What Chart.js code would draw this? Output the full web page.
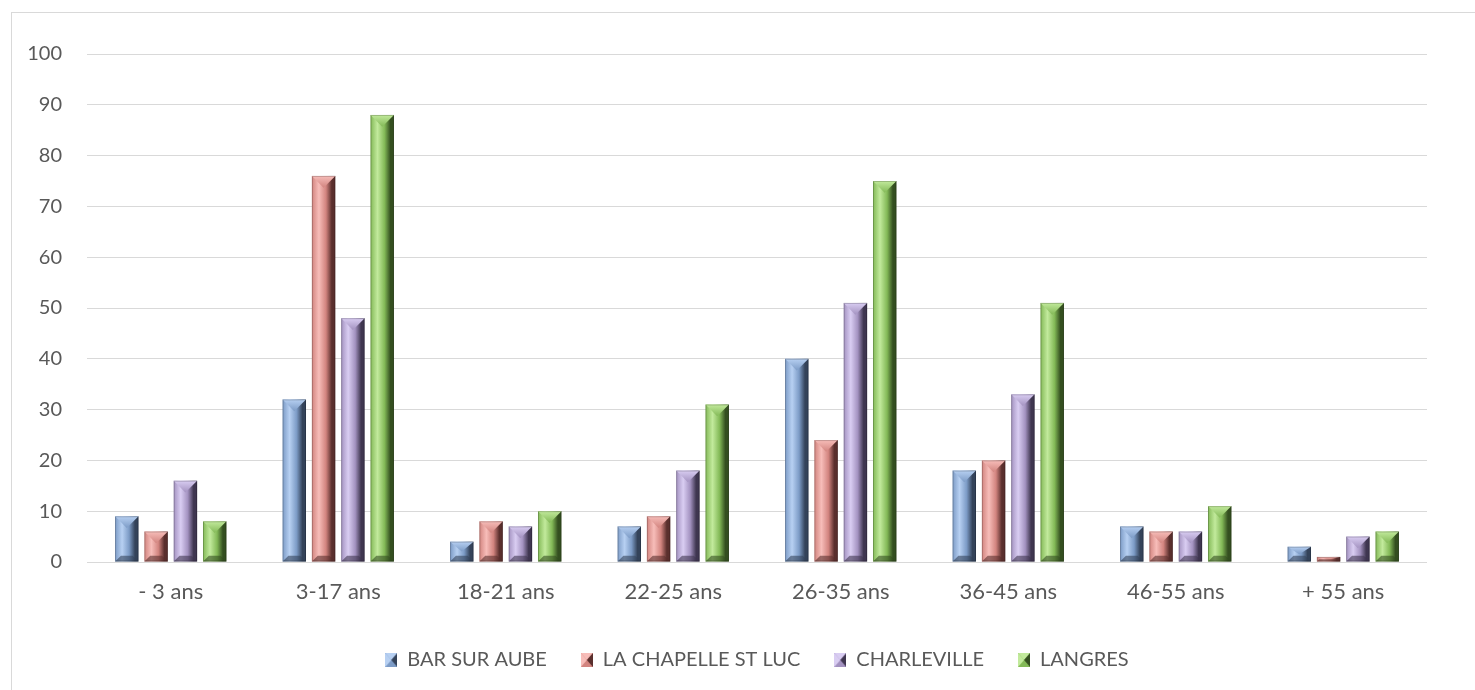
<!DOCTYPE html>
<html>
<head>
<meta charset="utf-8">
<script src="https://cdn.jsdelivr.net/npm/chart.js@4.4.1/dist/chart.umd.min.js"></script>
<style>
  html, body { margin: 0; padding: 0; background: #fff; }
  #wrap { position: relative; width: 1475px; height: 690px; }
  #frame { position: absolute; left: 11px; top: 12px; width: 1470px; height: 690px; border: 1px solid #d9d9d9; box-sizing: border-box; pointer-events: none; }
  canvas { display: block; }
</style>
</head>
<body>
<div id="wrap">
  <canvas id="chart" width="1475" height="690"></canvas>
  <div id="frame"></div>
</div>
<script>
// catégories d'âge
const categories = ['- 3 ans', '3-17 ans', '18-21 ans', '22-25 ans', '26-35 ans', '36-45 ans', '46-55 ans', '+ 55 ans'];

// valeurs par site
const barSurAube = [9, 32, 4, 7, 40, 18, 7, 3];
const laChapelle = [6, 76, 8, 9, 24, 20, 6, 1];
const charleville = [16, 48, 7, 18, 51, 33, 6, 5];
const langres = [8, 88, 10, 31, 75, 51, 11, 6];

const yTicks = [0, 10, 20, 30, 40, 50, 60, 70, 80, 90, 100];

// couleurs : base, clair, foncé
const palettes = [
  { base: '#7c9bc6', light: '#b7d0f2', dark: '#34435a' },
  { base: '#d2847f', light: '#f7bdb9', dark: '#5a2f2d' },
  { base: '#a392c0', light: '#d9cdf2', dark: '#3f3650' },
  { base: '#83b957', light: '#c2ea9c', dark: '#344f20' }
];

// dessine une barre biseautée
function drawBevel(ctx, left, right, top, bottom, pal) {
  const w = right - left;
  const h = bottom - top;
  if (h <= 0) return;
  const cx = (left + right) / 2;
  const g = ctx.createLinearGradient(left, 0, right, 0);
  g.addColorStop(0, pal.base);
  g.addColorStop(0.3, pal.light);
  g.addColorStop(0.6, pal.base);
  g.addColorStop(0.85, pal.dark);
  g.addColorStop(1, pal.dark);
  ctx.fillStyle = g;
  ctx.fillRect(left, top, w, h);

  const d = Math.min(w / 2, h / 2);
  // face du haut
  const gt = ctx.createLinearGradient(0, top, 0, top + d);
  gt.addColorStop(0, pal.light);
  gt.addColorStop(1, pal.base);
  ctx.fillStyle = gt;
  ctx.beginPath();
  ctx.moveTo(left, top);
  ctx.lineTo(right, top);
  ctx.lineTo(cx, top + d);
  ctx.closePath();
  ctx.fill();

  // face du bas
  const d2 = Math.min(w / 4, h / 2);
  ctx.fillStyle = pal.dark;
  ctx.globalAlpha = 0.6;
  ctx.beginPath();
  ctx.moveTo(left, bottom);
  ctx.lineTo(right, bottom);
  ctx.lineTo(right - d2, bottom - d2);
  ctx.lineTo(left + d2, bottom - d2);
  ctx.closePath();
  ctx.fill();
  ctx.globalAlpha = 1;

  ctx.strokeStyle = 'rgba(0,0,0,0.2)';
  ctx.lineWidth = 1;
  ctx.strokeRect(left + 0.5, top + 0.5, w - 1, h - 1);
}

// icônes de la légende
function legendIcon(pal) {
  const c = document.createElement('canvas');
  c.width = 12; c.height = 14;
  const x = c.getContext('2d');
  x.fillStyle = pal.base;
  x.fillRect(0, 0, 12, 14);
  x.fillStyle = pal.light;
  x.beginPath(); x.moveTo(0, 0); x.lineTo(12, 0); x.lineTo(6, 7); x.closePath(); x.fill();
  x.fillStyle = pal.dark;
  x.beginPath(); x.moveTo(12, 0); x.lineTo(12, 14); x.lineTo(6, 7); x.closePath(); x.fill();
  x.fillStyle = pal.light;
  x.beginPath(); x.moveTo(0, 0); x.lineTo(0, 14); x.lineTo(6, 7); x.closePath(); x.fill();
  return c;
}

const bevelPlugin = {
  id: 'bevelBars',
  afterLayout(chart) {
    // légende centrée sur la zone de tracé
    chart.legend.left = chart.chartArea.left;
    chart.legend.right = chart.chartArea.right;
  },
  afterDatasetsDraw(chart) {
    const ctx = chart.ctx;
    ctx.save();
    chart.data.datasets.forEach((ds, i) => {
      const meta = chart.getDatasetMeta(i);
      meta.data.forEach(bar => {
        const p = bar.getProps(['x', 'y', 'base', 'width'], true);
        drawBevel(ctx, p.x - p.width / 2, p.x + p.width / 2, p.y, p.base, palettes[i]);
      });
    });
    ctx.restore();
  }
};

const names = ['BAR SUR AUBE', 'LA CHAPELLE ST LUC', 'CHARLEVILLE', 'LANGRES'];
const series = [barSurAube, laChapelle, charleville, langres];

new Chart(document.getElementById('chart'), {
  type: 'bar',
  data: {
    labels: categories,
    datasets: series.map((s, i) => ({
      label: names[i],
      data: s,
      backgroundColor: 'rgba(0,0,0,0)',
      borderWidth: 0,
      pointStyle: legendIcon(palettes[i])
    }))
  },
  options: {
    responsive: false,
    animation: false,
    layout: { padding: { left: 0, right: 48, top: 54, bottom: 14 } },
    datasets: { bar: { categoryPercentage: 0.7, barPercentage: 0.8 } },
    scales: {
      x: {
        grid: { display: false },
        border: { display: false },
        ticks: { color: '#595959', font: { family: 'Lato', size: 22 }, padding: 9 },
        afterFit(scale) { scale.height = 54; }
      },
      y: {
        min: 0, max: 100,
        afterBuildTicks(scale) { scale.ticks = yTicks.map(v => ({ value: v })); },
        grid: { color: '#d9d9d9', lineWidth: 1, drawTicks: false },
        border: { display: false },
        ticks: { color: '#595959', font: { family: 'Lato', size: 20 }, padding: 25 },
        afterFit(scale) { scale.width = 87; }
      }
    },
    plugins: {
      legend: {
        position: 'bottom',
        maxHeight: 60,
        labels: {
          usePointStyle: true,
          color: '#595959',
          font: { family: 'Lato', size: 20 },
          padding: 34,
          boxWidth: 12
        }
      },
      tooltip: { enabled: false }
    }
  },
  plugins: [bevelPlugin]
});
</script>
</body>
</html>
